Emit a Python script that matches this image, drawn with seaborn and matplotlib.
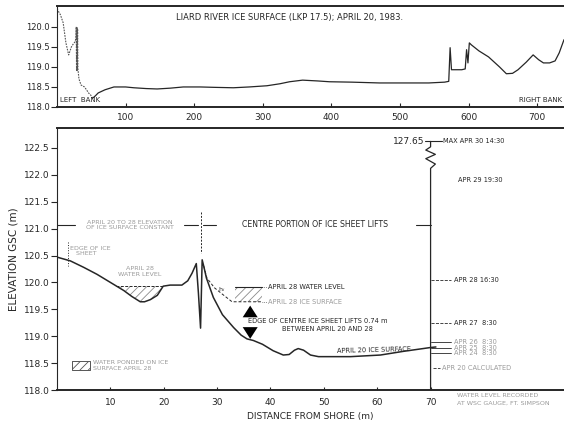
import numpy as np
import pandas as pd
import matplotlib
matplotlib.use("Agg")
import matplotlib.pyplot as plt
import seaborn as sns

# Top panel: ice surface across the whole river (m from left bank)
section_dist = [0, 5, 9, 13, 17, 21, 24, 26, 27.5, 28, 28.5, 29, 29.5, 30, 30.5, 32, 35, 40, 43, 46,
                49, 52, 56, 60, 70, 83, 100, 112, 130, 146, 165, 184, 209, 230, 257, 280, 306,
                325, 339, 358, 380, 397, 430, 470, 510, 542, 565, 571, 573, 575, 577, 580, 590,
                595, 597, 599, 601, 604, 615, 629, 645, 655, 664, 672, 684, 694, 702, 709, 718,
                726, 732, 739]
section_elev = [120.45, 120.3, 120.1, 119.6, 119.3, 119.5, 119.58, 119.62, 119.7, 120.0, 118.9,
                120.0, 118.9, 119.95, 118.95, 118.7, 118.55, 118.5, 118.43, 118.35, 118.3,
                118.22, 118.28, 118.35, 118.43, 118.5, 118.5, 118.48, 118.46, 118.45, 118.47,
                118.5, 118.5, 118.49, 118.48, 118.5, 118.53, 118.58, 118.63, 118.67, 118.65,
                118.63, 118.62, 118.6, 118.6, 118.6, 118.62, 118.64, 119.48, 118.93, 118.93,
                118.93, 118.93, 118.95, 119.43, 119.1, 119.6, 119.55, 119.4, 119.25, 119.0,
                118.83, 118.84, 118.93, 119.12, 119.3, 119.18, 119.1, 119.1, 119.15, 119.35,
                119.68]

# Bottom panel: April 20 ice surface near the left bank
shore_dist = [0, 2.5, 5, 7.5, 10, 12.5, 14, 15.6, 16.4, 17.5, 18.8, 19.9, 21.2, 23.4, 24.5, 25.3,
              26.1, 26.5, 26.9, 27.2, 27.5, 28, 29.3, 31, 33.1, 34.5, 35.6, 36.8, 38.5, 40.5,
              42.4, 43.5, 44.5, 45.2, 46.2, 47.5, 49, 51.8, 55, 60.6, 65, 68.6, 70, 71]
shore_elev = [120.47, 120.4, 120.28, 120.15, 120.0, 119.85, 119.74, 119.64, 119.64, 119.68,
              119.76, 119.93, 119.95, 119.95, 120.03, 120.17, 120.35, 119.8, 119.15, 120.42,
              120.3, 120.08, 119.72, 119.4, 119.16, 119.02, 118.95, 118.92, 118.85, 118.73,
              118.65, 118.66, 118.74, 118.77, 118.74, 118.65, 118.62, 118.62, 118.62, 118.65,
              118.72, 118.77, 118.79, 118.8]

# April 28 ice surface (dashed) right of the crack
apr28_dist = [27.5, 28.1, 29.5, 31, 32.8, 38.4]
apr28_elev = [120.3, 120.08, 119.9, 119.78, 119.64, 119.64]

pond_level = 119.93
pond_range = [11.0, 20.0]
centre_pond_x = [33.4, 38.4]
centre_pond_y = [119.64, 119.92]

# water levels recorded at the gauge
gauge_x = 70
gauge_labels = ["APR 28 16:30", "APR 27  8:30", "APR 26  8:30", "APR 25  8:30", "APR 24  8:30"]
gauge_elev = [120.05, 119.25, 118.90, 118.78, 118.68]
calc_label = "APR 20 CALCULATED"
calc_elev = 118.40
apr29_label = "APR 29 19:30"
apr29_elev = 121.90
max_label = "MAX APR 30 14:30"
max_value = "127.65"

top_ticks = [100, 200, 300, 400, 500, 600, 700]
top_yticks = [118.0, 118.5, 119.0, 119.5, 120.0]
bot_xticks = [10, 20, 30, 40, 50, 60, 70]
bot_yticks = [118.0, 118.5, 119.0, 119.5, 120.0, 120.5, 121.0, 121.5, 122.0, 122.5]

INK = "#262626"
FADE = "#9a9a9a"

sns.set_theme(style="ticks")
plt.rcParams["font.family"] = ["DejaVu Sans"]
plt.rcParams["hatch.linewidth"] = 0.6

fig = plt.figure(figsize=(5.64, 4.24), dpi=100)
ax_top = fig.add_axes([57 / 564, 1 - 107 / 424, 507 / 564, 101 / 424])
ax_bot = fig.add_axes([57 / 564, 1 - 390 / 424, 507 / 564, 262 / 424])

# ---------------- top panel ----------------
sec = pd.DataFrame({"dist": section_dist, "elev": section_elev})
left = sec[sec["dist"] <= 52]
rest = sec[sec["dist"] >= 52]
sns.lineplot(data=left, x="dist", y="elev", ax=ax_top, sort=False, estimator=None,
             color="#555555", lw=0.8, linestyle=(0, (1.5, 1)))
sns.lineplot(data=rest, x="dist", y="elev", ax=ax_top, sort=False, estimator=None,
             color=INK, lw=0.9)
ax_top.set_xlim(0, 739)
ax_top.set_ylim(118.0, 120.52)
ax_top.set_xticks(top_ticks)
ax_top.set_yticks(top_yticks)
ax_top.set_yticklabels([f"{v:.1f}" for v in top_yticks])
ax_top.tick_params(axis="y", direction="out", length=4, width=0.8, labelsize=6, colors=INK, pad=1)
ax_top.tick_params(axis="x", direction="in", length=3, width=0.8, labelsize=6.5, colors=INK, pad=4)
ax_top.set_xlabel("")
ax_top.set_ylabel("")
for s in ["top", "bottom", "left"]:
    ax_top.spines[s].set_color(INK)
ax_top.spines["top"].set_linewidth(1.4)
ax_top.spines["bottom"].set_linewidth(1.4)
ax_top.spines["left"].set_linewidth(0.8)
ax_top.spines["right"].set_visible(False)
ax_top.text(174, 120.23, "LIARD RIVER ICE SURFACE (LKP 17.5); APRIL 20, 1983.",
            fontsize=6, color=INK, va="center")
ax_top.text(5, 118.18, "LEFT  BANK", fontsize=5, color=INK, va="center")
ax_top.text(736, 118.18, "RIGHT BANK", fontsize=5, color=INK, va="center", ha="right")

# ---------------- bottom panel ----------------
prof = pd.DataFrame({"dist": shore_dist, "elev": shore_elev})
sns.lineplot(data=prof, x="dist", y="elev", ax=ax_bot, sort=False, estimator=None,
             color=INK, lw=1.1)
sns.lineplot(x=apr28_dist, y=apr28_elev, ax=ax_bot, sort=False, estimator=None,
             color=INK, lw=0.7, linestyle=(0, (3, 2)))

sd = np.array(shore_dist)
se = np.array(shore_elev)
mask = (sd >= pond_range[0]) & (sd <= pond_range[1])
ax_bot.fill_between(sd, se, pond_level, where=mask & (se <= pond_level), interpolate=True,
                    facecolor="none", edgecolor="#8a8a8a", hatch="////", lw=0)
ax_bot.plot(pond_range, [pond_level, pond_level], color=INK, lw=0.7, linestyle=(0, (3, 1.5)))

ax_bot.fill_between(centre_pond_x, centre_pond_y[0], centre_pond_y[1],
                    facecolor="none", edgecolor="#8a8a8a", hatch="////", lw=0)
ax_bot.plot(centre_pond_x, [centre_pond_y[1]] * 2, color=INK, lw=0.8)
ax_bot.plot([centre_pond_x[1], 39.3], [centre_pond_y[1]] * 2, color=INK, lw=0.5, ls=":")
ax_bot.plot([centre_pond_x[1], 39.3], [centre_pond_y[0]] * 2, color=INK, lw=0.5, ls=":")

# arrows showing the lift of the centre ice sheet
arrow_x = np.mean(centre_pond_x) + 0.3
arrow_style = "simple,head_width=0.9,head_length=0.7,tail_width=0.45"
ax_bot.annotate("", xy=(arrow_x, 119.62), xytext=(arrow_x, 119.36),
                arrowprops=dict(arrowstyle=arrow_style, color="black", lw=0))
ax_bot.annotate("", xy=(arrow_x, 118.90), xytext=(arrow_x, 119.18),
                arrowprops=dict(arrowstyle=arrow_style, color="black", lw=0))

# gauge line with a break
zig_y = [118.0, 122.12, 122.2, 122.3, 122.38, 122.46, 122.52, 122.62]
zig_x = [gauge_x, gauge_x, gauge_x + 0.9, gauge_x - 0.9, gauge_x + 0.9, gauge_x - 0.9, gauge_x, gauge_x]
ax_bot.plot(zig_x, zig_y, color=INK, lw=0.9, clip_on=False)
ax_bot.plot([gauge_x - 1.0, gauge_x + 2.2], [122.62, 122.62], color=INK, lw=0.8)
ax_bot.text(gauge_x - 1.2, 122.62, max_value, fontsize=6.5, color=INK, ha="right", va="center")
ax_bot.text(gauge_x + 2.4, 122.62, max_label, fontsize=4.8, color=INK, va="center")
ax_bot.text(gauge_x + 5.2, apr29_elev, apr29_label, fontsize=4.8, color=INK, va="center")
for lab, el in zip(gauge_labels, gauge_elev):
    ax_bot.plot([gauge_x, gauge_x + 3.9], [el, el], color=INK, lw=0.6,
                ls="--" if el > 119 else "-")
    ax_bot.text(gauge_x + 4.4, el, lab, fontsize=4.8, va="center",
                color=INK if el > 119 else FADE)
ax_bot.plot([gauge_x + 0.5, gauge_x + 1.8], [calc_elev, calc_elev], color=INK, lw=0.6, ls="--")
ax_bot.text(gauge_x + 2.1, calc_elev, calc_label, fontsize=4.8, color=FADE, va="center")
ax_bot.text(gauge_x + 5.0, 117.89, "WATER LEVEL RECORDED", fontsize=4.6, color=FADE,
            va="center", clip_on=False)
ax_bot.text(gauge_x + 5.0, 117.76, "AT WSC GAUGE, FT. SIMPSON", fontsize=4.6, color=FADE,
            va="center", clip_on=False)

# dimension line for ice sheet behaviour
dim_y = 121.07
ax_bot.plot([0, 3.3], [dim_y, dim_y], color=INK, lw=0.8)
ax_bot.plot([23.8, 26.5], [dim_y, dim_y], color=INK, lw=0.8)
ax_bot.plot([27.4, 29.7], [dim_y, dim_y], color=INK, lw=0.8)
ax_bot.plot([67.2, gauge_x], [dim_y, dim_y], color=INK, lw=0.8)
ax_bot.plot([27, 27], [121.3, 120.55], color=INK, lw=0.7, ls=(0, (2, 1.5)))
ax_bot.text(13.6, 121.07, "APRIL 20 TO 28 ELEVATION\nOF ICE SURFACE CONSTANT", fontsize=4.6,
            color=FADE, ha="center", va="center", linespacing=1.1)
ax_bot.text(48.4, dim_y, "CENTRE PORTION OF ICE SHEET LIFTS", fontsize=5.6, color=INK,
            ha="center", va="center")

ax_bot.plot([2.1, 2.1], [120.75, 120.3], color=INK, lw=0.7, ls=":")
ax_bot.text(2.4, 120.58, "EDGE OF ICE\n   SHEET", fontsize=4.6, color=FADE, va="center",
            linespacing=1.1)
ax_bot.text(15.5, 120.2, "APRIL 28\nWATER LEVEL", fontsize=4.6, color=FADE, ha="center",
            va="center", linespacing=1.1)
ax_bot.text(39.6, 119.92, "APRIL 28 WATER LEVEL", fontsize=4.8, color=INK, va="center")
ax_bot.text(39.6, 119.64, "APRIL 28 ICE SURFACE", fontsize=4.8, color=FADE, va="center")
ax_bot.text(35.8, 119.28, "EDGE OF CENTRE ICE SHEET LIFTS 0.74 m", fontsize=4.8, color=INK,
            va="center")
ax_bot.text(42.2, 119.14, "BETWEEN APRIL 20 AND 28", fontsize=4.8, color=INK, va="center")
ax_bot.text(30.2, 119.86, "h$_i$", fontsize=4.5, color=INK, va="center")
ax_bot.text(52.5, 118.67, "APRIL 20 ICE SURFACE", fontsize=4.8, color=INK, va="bottom",
            rotation=1.5)

# legend box for ponded water
ax_bot.fill_between([2.9, 6.1], 118.37, 118.54, facecolor="none", edgecolor="#555555",
                    hatch="////", lw=0.7)
ax_bot.text(6.8, 118.455, "WATER PONDED ON ICE\nSURFACE APRIL 28", fontsize=4.6, color=FADE,
            va="center", linespacing=1.1)

ax_bot.set_xlim(0, 95)
ax_bot.set_ylim(118.0, 122.87)
ax_bot.set_xticks(bot_xticks)
ax_bot.set_yticks(bot_yticks)
ax_bot.set_yticklabels([f"{v:.1f}" for v in bot_yticks])
ax_bot.tick_params(axis="y", direction="out", length=4, width=0.8, labelsize=6.5, colors=INK, pad=1)
ax_bot.tick_params(axis="x", direction="in", length=2, width=0.8, labelsize=6.5, colors=INK, pad=6)
ax_bot.set_xlabel("DISTANCE FROM SHORE (m)", fontsize=6.5, color=INK, labelpad=3)
ax_bot.set_ylabel("ELEVATION GSC (m)", fontsize=7.5, color=INK, labelpad=4)
for s in ["top", "bottom", "left"]:
    ax_bot.spines[s].set_color(INK)
ax_bot.spines["top"].set_linewidth(1.4)
ax_bot.spines["bottom"].set_linewidth(1.4)
ax_bot.spines["left"].set_linewidth(0.8)
ax_bot.spines["right"].set_visible(False)

fig.savefig("out.png", dpi=100)
